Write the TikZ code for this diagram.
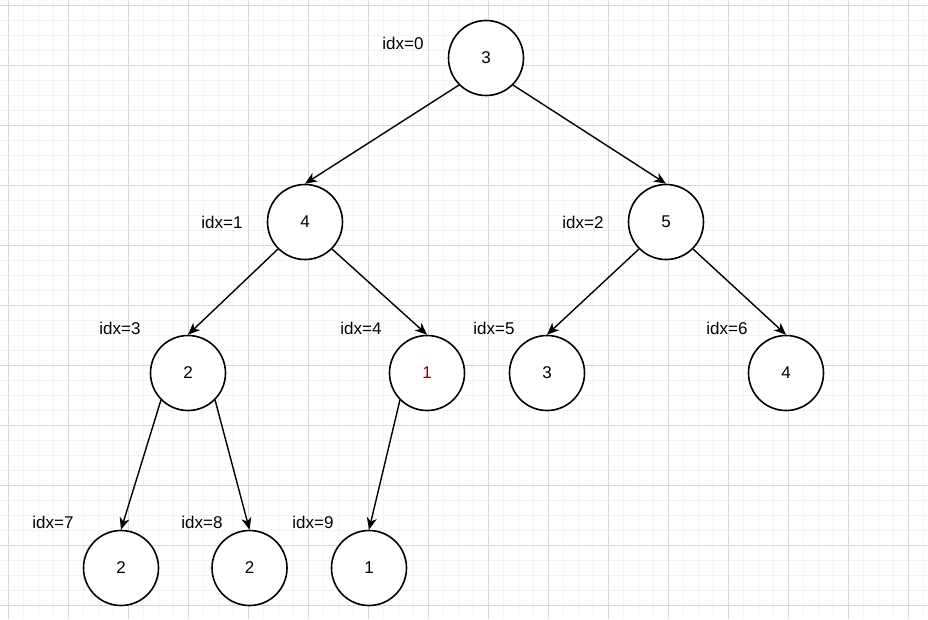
\documentclass[tikz,border=0pt]{standalone}
\usepackage{fontspec}
\setmainfont{Liberation Sans}
\usetikzlibrary{arrows.meta}
\definecolor{majorgrid}{RGB}{216,216,216}
\definecolor{minorgrid}{RGB}{243,243,243}
\definecolor{darkred}{RGB}{150,0,0}
\tikzset{
  treenode/.style={circle, draw=black, line width=1.6pt, fill=white, minimum size=75pt, inner sep=0pt, font=\fontsize{17}{20}\selectfont},
  idxlabel/.style={font=\fontsize{17}{20}\selectfont, inner sep=0pt},
  edge/.style={line width=1.4pt, -{Stealth[length=12pt,width=10pt,inset=3.5pt]}},
}
\begin{document}
\begin{tikzpicture}[x=1pt,y=-1pt]
\useasboundingbox (0,0) rectangle (928,619);
\fill[white] (0,0) rectangle (928,619);
% minor grid
\foreach \x in {-7,8,...,928} \draw[minorgrid, line width=1pt] (\x,0) -- (\x,619);
\foreach \y in {-10,5,...,619} \draw[minorgrid, line width=1pt] (0,\y) -- (928,\y);
% major grid
\foreach \x in {8,68,...,928} \draw[majorgrid, line width=1pt] (\x,0) -- (\x,619);
\foreach \y in {5,65,...,619} \draw[majorgrid, line width=1pt] (0,\y) -- (928,\y);

\node[treenode] (n0) at (486,58) {3};
\node[treenode] (n1) at (305,222) {4};
\node[treenode] (n2) at (666,222) {5};
\node[treenode] (n3) at (188,373) {2};
\node[treenode, text=darkred] (n4) at (427,373) {1};
\node[treenode] (n5) at (547,373) {3};
\node[treenode] (n6) at (786,373) {4};
\node[treenode] (n7) at (121,568) {2};
\node[treenode] (n8) at (249.5,568) {2};
\node[treenode] (n9) at (369,568) {1};

\node[idxlabel] (l0) at (403,43) {idx=0};
\node[idxlabel] (l1) at (222,222) {idx=1};
\node[idxlabel] (l2) at (583,222) {idx=2};
\node[idxlabel] (l3) at (120,328) {idx=3};
\node[idxlabel] (l4) at (361,328) {idx=4};
\node[idxlabel] (l5) at (494,328) {idx=5};
\node[idxlabel] (l6) at (727,328) {idx=6};
\node[idxlabel] (l7) at (53,522) {idx=7};
\node[idxlabel] (l8) at (202,522) {idx=8};
\node[idxlabel] (l9) at (313,522) {idx=9};

\draw[edge] (n0.south west) -- (n1.north);
\draw[edge] (n0.south east) -- (n2.north);
\draw[edge] (n1.south west) -- (n3.north);
\draw[edge] (n1.south east) -- (n4.north);
\draw[edge] (n2.south west) -- (n5.north);
\draw[edge] (n2.south east) -- (n6.north);
\draw[edge] (n3.south west) -- (n7.north);
\draw[edge] (n3.south east) -- (n8.north);
\draw[edge] (n4.south west) -- (n9.north);
\end{tikzpicture}
\end{document}
